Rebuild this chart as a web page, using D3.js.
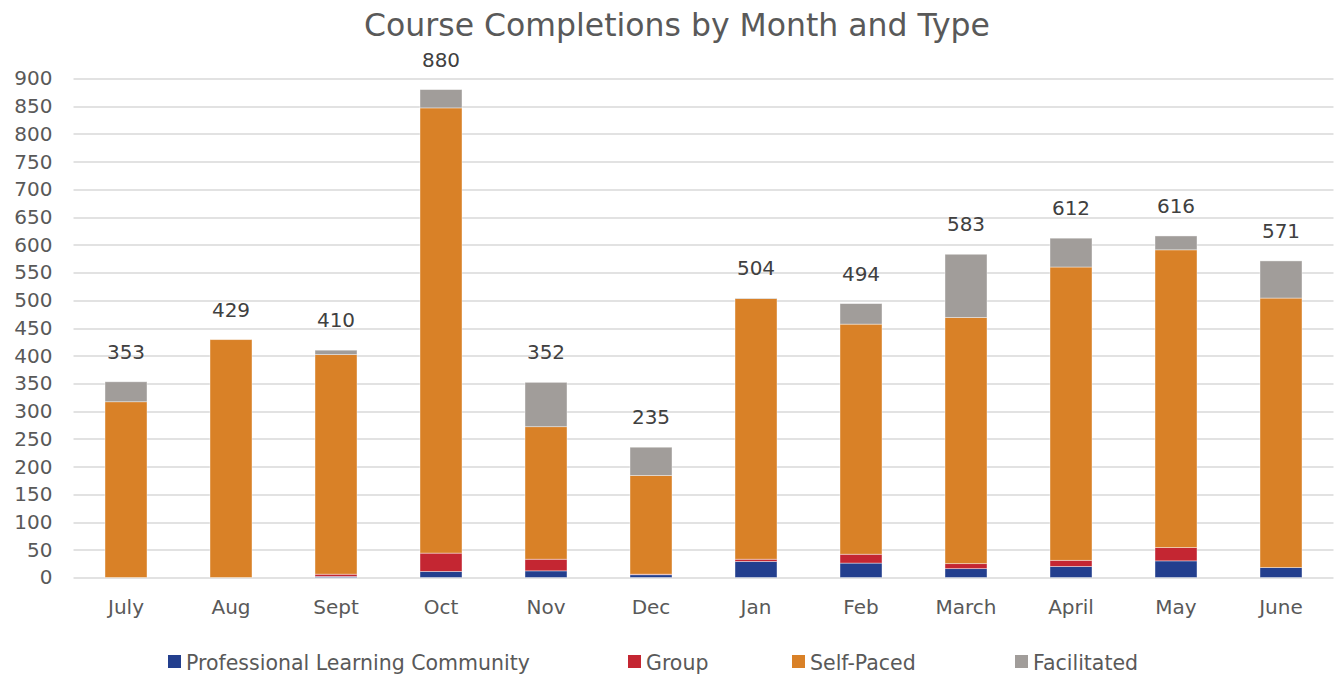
<!DOCTYPE html>
<html>
<head>
<meta charset="utf-8">
<script src="https://cdn.jsdelivr.net/npm/d3@7/dist/d3.min.js"></script>
<style>
  body { margin: 0; background: #fff; }
  text { font-family: "DejaVu Sans", sans-serif; }
</style>
</head>
<body>
<svg width="1336" height="677"></svg>
<script>
// chart data
var months = ["July", "Aug", "Sept", "Oct", "Nov", "Dec", "Jan", "Feb", "March", "April", "May", "June"];
var seriesNames = ["Professional Learning Community", "Group", "Self-Paced", "Facilitated"];
var plcValues = [0, 0, 2, 11, 12, 5, 29, 26, 16, 20, 30, 18];
var groupValues = [0, 0, 4, 33, 21, 1, 4, 16, 9, 11, 24, 0];
var selfPacedValues = [317, 429, 396, 803, 239, 178, 470, 415, 444, 529, 537, 486];
var facilitatedValues = [36, 0, 8, 33, 80, 51, 1, 37, 114, 52, 25, 67];
var yTicks = [0, 50, 100, 150, 200, 250, 300, 350, 400, 450, 500, 550, 600, 650, 700, 750, 800, 850, 900];

var colors = ["#233F8E", "#C42632", "#D98127", "#A19D9A"];

var margin = {left: 73.5, right: 2.5, top: 78.5, bottom: 99.5};
var width = 1336 - margin.left - margin.right;
var height = 677 - margin.top - margin.bottom;

// build rows for the stack
var rows = months.map(function(m, i) {
    return {month: m, s0: plcValues[i], s1: groupValues[i], s2: selfPacedValues[i], s3: facilitatedValues[i]};
});
var stack = d3.stack().keys(["s0", "s1", "s2", "s3"]);
var layers = stack(rows);

var svg = d3.select("svg");
var g = svg.append("g").attr("transform", "translate(" + margin.left + "," + margin.top + ")");

var x = d3.scaleBand().domain(months).range([0, width]).paddingInner(0.6).paddingOuter(0.3);
var y = d3.scaleLinear().domain([0, 900]).range([height, 0]);

// title
svg.append("text")
    .attr("x", 677).attr("y", 36)
    .attr("text-anchor", "middle")
    .style("font-size", "31.5px")
    .style("fill", "#595959")
    .text("Course Completions by Month and Type");

// gridlines
g.selectAll("line.grid")
    .data(yTicks)
    .enter()
    .append("line")
    .attr("class", "grid")
    .attr("x1", 0).attr("x2", width)
    .attr("y1", function(d) { return Math.round(y(d)) + 0.5; })
    .attr("y2", function(d) { return Math.round(y(d)) + 0.5; })
    .attr("stroke", "#d9d9d9")
    .attr("stroke-width", 1.3);

// y axis labels
var yAxis = d3.axisLeft(y).tickValues(yTicks).tickSize(0).tickPadding(21);
var yG = g.append("g").call(yAxis);
yG.select(".domain").remove();
yG.selectAll("text")
    .style("font-size", "20px")
    .style("font-family", "DejaVu Sans, sans-serif")
    .style("fill", "#595959");

// x axis labels
var xAxis = d3.axisBottom(x).tickSize(0).tickPadding(22);
var xG = g.append("g").attr("transform", "translate(0," + height + ")").call(xAxis);
xG.select(".domain").remove();
xG.selectAll("text")
    .style("font-size", "20px")
    .style("font-family", "DejaVu Sans, sans-serif")
    .style("fill", "#595959");

// stacked bars
var layerG = g.selectAll("g.layer")
    .data(layers)
    .enter()
    .append("g")
    .attr("class", "layer")
    .style("fill", function(d, i) { return colors[i]; });

layerG.selectAll("rect")
    .data(function(d) { return d; })
    .enter()
    .append("rect")
    .attr("x", function(d) { return x(d.data.month); })
    .attr("width", x.bandwidth())
    .attr("y", function(d) { return y(d[1]); })
    .attr("height", function(d) { return y(d[0]) - y(d[1]); })
    .attr("stroke", "rgba(255,255,255,0.5)")
    .attr("stroke-width", 0.8);

// totals above each bar
g.selectAll("text.total")
    .data(rows)
    .enter()
    .append("text")
    .attr("class", "total")
    .attr("x", function(d) { return x(d.month) + x.bandwidth() / 2; })
    .attr("y", function(d) { return y(d.s0 + d.s1 + d.s2 + d.s3) - 23; })
    .attr("text-anchor", "middle")
    .style("font-size", "20px")
    .style("fill", "#404040")
    .text(function(d) { return d.s0 + d.s1 + d.s2 + d.s3; });

// legend
var legendX = [168, 628, 792, 1015];
var legend = svg.selectAll("g.legend")
    .data(seriesNames)
    .enter()
    .append("g")
    .attr("class", "legend")
    .attr("transform", function(d, i) { return "translate(" + legendX[i] + ",655)"; });

legend.append("rect")
    .attr("width", 13).attr("height", 13)
    .style("fill", function(d, i) { return colors[i]; });

legend.append("text")
    .attr("x", 18).attr("y", 15)
    .style("font-size", "20.5px")
    .style("fill", "#595959")
    .text(function(d) { return d; });
</script>
</body>
</html>
